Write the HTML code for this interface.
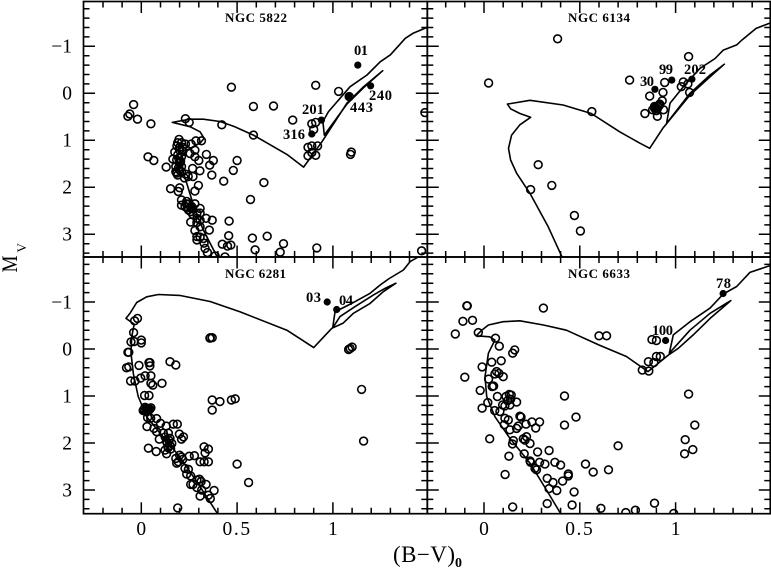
<!DOCTYPE html>
<html>
<head>
<meta charset="utf-8">
<title>NGC colour-magnitude diagrams</title>
<style>
html,body{margin:0;padding:0;background:#fff;width:771px;height:570px;overflow:hidden}
svg{display:block}
text{font-family:"Liberation Serif",serif;fill:#000}
</style>
</head>
<body>
<svg id="chart" xmlns="http://www.w3.org/2000/svg" width="771" height="570" viewBox="0 0 771 570">
<defs>
<clipPath id="clip-0"><rect x="83.5" y="1.5" width="343.8" height="255.5"/></clipPath>
<clipPath id="clip-1"><rect x="427.3" y="1.5" width="343" height="255.5"/></clipPath>
<clipPath id="clip-2"><rect x="83.5" y="257" width="343.8" height="256.7"/></clipPath>
<clipPath id="clip-3"><rect x="427.3" y="257" width="343" height="256.7"/></clipPath>
</defs>
</svg>
<script>
// ---- axis tick values
var xTickValues = [0, 0.5, 1];
var xTickLabels = ["0", "0.5", "1"];
var yTickValues = [-1, 0, 1, 2, 3];
var yTickLabels = ["\u22121", "0", "1", "2", "3"];

// ---- NGC 5822
var ngc5822OpenBV = [-0.04,-0.06,-0.07,-0.02,0.05,0.23,0.25,0.42,0.47,0.585,0.69,0.79,0.585,0.91,1.03,1.48,0.89,0.91,0.90,0.87,0.89,0.92,0.87,0.89,0.91,1.096,1.092,1.085,
0.035,0.065,0.13,0.165,0.197,0.186,0.21,0.23,0.26,0.285,0.314,0.28,0.254,0.28,0.30,0.34,0.376,0.357,0.306,0.268,0.368,0.43,0.48,0.50,0.64,0.57,0.153,0.20,0.193,0.298,0.28,
0.20,0.19,0.21,0.185,0.20,0.21,0.18,0.19,0.21,0.23,0.245,0.27,0.20,0.216,0.18,
0.21,0.21,0.237,0.25,0.263,0.28,0.307,0.246,0.258,0.228,0.29,0.307,0.29,0.307,0.338,0.37,0.258,0.29,0.307,0.28,0.355,0.29,0.307,0.324,0.29,0.328,0.333,0.345,0.385,0.437,
0.458,0.456,0.423,0.45,0.467,0.58,0.657,0.742,0.725,0.594,0.916,1.463,
0.19,0.20,0.175,0.195,0.205,0.215,0.195,0.185,0.225,0.24,0.26,0.235,0.27];
var ngc5822OpenMV = [0.24,0.44,0.49,0.55,0.65,0.54,0.62,0.67,-0.13,0.28,0.27,0.57,0.89,-0.17,-0.04,0.41,0.65,0.62,0.77,1.15,1.12,1.12,1.33,1.26,1.32,1.25,1.30,0.07,
1.35,1.43,1.57,1.40,0.98,1.12,1.05,1.08,1.08,1.01,1.01,1.21,1.28,1.35,1.43,1.30,1.43,1.53,1.65,1.60,1.74,1.87,1.64,1.43,1.90,2.26,2.03,2.01,2.09,1.96,2.08,
1.21,1.31,1.35,1.42,1.49,1.56,1.67,1.74,1.67,1.72,1.77,1.77,1.63,1.24,1.56,
2.27,2.38,2.30,2.35,2.41,2.35,2.45,2.48,2.52,2.41,2.55,2.55,2.66,2.70,2.66,2.70,2.74,2.75,2.84,2.92,2.91,3.05,3.06,3.09,3.12,3.19,3.30,3.39,3.46,3.48,
2.72,3.03,3.21,3.25,3.23,3.08,3.04,3.20,3.38,3.33,3.29,3.35,
1.05,1.15,1.25,1.38,1.45,1.15,1.58,1.70,1.80,2.42,2.45,2.35,2.58];
var ngc5822StarBV = [1.13, 1.197, 1.082, 0.94, 0.89];
var ngc5822StarMV = [-0.60, -0.16, 0.06, 0.57, 0.865];
var ngc5822LabelText = ["01", "240", "443", "201", "316"];
var ngc5822LineBV = [0.40,0.324,0.28,0.237,0.21,0.21,0.237,0.307,0.328,0.307,0.254,0.162,0.254,0.324,0.411,0.481,0.585,0.76,0.847,0.943,1.073,1.16,1.26,1.16,1.073,0.955,0.948,0.977,1.09,1.178,1.247,1.30,1.378,1.42,1.49];
var ngc5822LineMV = [3.51,2.91,2.48,1.91,1.56,1.35,1.21,1.06,0.96,0.82,0.71,0.62,0.55,0.55,0.60,0.70,0.89,1.30,1.57,1.03,0.21,-0.14,-0.48,-0.12,0.23,0.89,0.60,0.39,-0.14,-0.39,-0.67,-0.82,-1.17,-1.28,-1.40];

// ---- NGC 6134
var ngc6134OpenBV = [0.384,0.024,0.5625,0.76,1.068,0.943,1.04,1.03,1.064,0.934,1.073,0.865,0.93,0.917,0.89,0.908,0.88,0.90,0.937,0.84,0.905,0.283,0.354,0.243,0.472,0.503,0.895,0.905,0.915];
var ngc6134OpenMV = [-1.16,-0.22,0.39,-0.28,-0.78,-0.23,-0.24,-0.14,-0.20,-0.02,-0.02,0.06,0.16,0.23,0.28,0.28,0.35,0.37,0.35,0.43,0.49,1.52,1.96,2.05,2.60,2.93,0.30,0.33,0.26];
var ngc6134StarBV = [0.892, 0.98, 1.085, 0.895, 0.90, 0.885];
var ngc6134StarMV = [-0.085, -0.28, -0.30, 0.31, 0.34, 0.33];
var ngc6134LabelText = ["30", "99", "202"];
var ngc6134LineBV = [0.408,0.335,0.24,0.17,0.139,0.128,0.144,0.1875,0.243,0.1875,0.139,0.122,0.24,0.413,0.56,0.708,0.8125,0.865,0.933,1.075,1.18,1.254,1.18,1.075,0.953,0.971,1.049,1.127,1.206,1.249,1.319,1.345,1.42,1.49];
var ngc6134LineMV = [3.49,2.84,2.13,1.70,1.42,1.17,0.89,0.67,0.51,0.43,0.33,0.23,0.15,0.25,0.43,0.82,1.06,1.17,0.745,0.036,-0.35,-0.62,-0.39,0,0.64,0.21,-0.18,-0.53,-0.74,-0.92,-1.03,-1.13,-1.38,-1.49];

// ---- NGC 6281
var ngc6281OpenBV = [-0.02,-0.035,-0.04,-0.054,-0.037,0,0,-0.07,-0.065,-0.077,-0.065,-0.012,0.04,0.045,0.045,0.15,0.18,-0.056,-0.033,-0.003,0.02,0.05,0.06,0.05,0.108,0.017,0.04,
0.014,0.028,0.045,0.024,0.037,0.01,0.02,0.05,0.033,0.049,0.08,0.10,0.03,0.066,0.13,0.167,0.188,0.08,0.094,0.115,
0.141,0.124,0.15,0.132,0.159,0.141,0.124,0.153,0.132,0.199,0.22,0.21,0.037,0.078,0.18,0.20,0.21,0.193,0.185,0.216,0.25,0.277,0.328,0.35,0.333,0.307,0.328,0.35,0.50,0.56,
0.228,0.246,0.237,0.258,0.258,0.27,0.29,0.303,0.312,0.29,0.338,0.315,0.38,0.35,0.307,0.36,0.19,0.36,0.37,0.358,0.37,0.41,0.37,0.47,0.49,1.082,1.09,1.10,1.15,1.16,
0.03,0.04,0.025,0.035,0.135,0.14,0.15,0.145];
var ngc6281OpenMV = [-0.65,-0.60,-0.35,-0.15,-0.16,-0.19,-0.13,0.07,0.07,0.40,0.38,0.35,0.29,0.29,0.36,0.27,0.34,0.68,0.68,0.62,0.57,0.57,0.77,0.73,0.73,0.99,0.99,
1.28,1.26,1.28,1.33,1.31,1.31,1.24,1.25,1.46,1.475,1.48,1.58,1.65,1.69,1.64,1.60,1.60,1.76,1.92,1.79,
1.79,1.87,1.90,1.97,2.01,2.08,2.15,2.13,2.23,1.81,1.87,1.92,2.11,2.18,2.33,2.26,2.30,2.40,2.43,2.35,2.28,2.27,2.08,2.13,2.21,2.40,2.40,2.40,2.45,2.84,
2.54,2.56,2.66,2.70,2.88,2.88,2.79,2.77,2.82,2.95,2.88,3.0,3.01,3.11,3.13,3.18,3.38,-0.24,-0.24,-0.23,1.085,1.12,1.30,1.085,1.06,0.01,-0.01,-0.04,0.86,1.96,
1.29,1.30,1.30,1.27,2.0,2.1,2.05,1.95];
var ngc6281StarBV = [0.97, 1.02];
var ngc6281StarMV = [-1.0, -0.84];
var ngc6281LabelText = ["03", "04"];
var ngc6281LineBV = [0.397,0.307,0.20,0.098,0.028,-0.016,-0.042,-0.054,-0.05,-0.037,-0.08,-0.059,-0.024,0.028,0.089,0.20,0.359,0.516,0.76,0.90,0.994,1.054,1.107,1.194,1.263,1.329,1.272,1.212,1.115,1.037,0.999,1.011,1.098,1.194,1.246,1.29,1.368,1.403,1.455];
var ngc6281LineMV = [3.50,2.93,2.29,1.79,1.44,1.01,0.52,0.09,-0.26,-0.53,-0.65,-0.76,-0.99,-1.11,-1.16,-1.14,-1.01,-0.79,-0.40,-0.03,-0.44,-0.55,-0.76,-0.97,-1.22,-1.40,-1.29,-1.15,-0.90,-0.69,-0.45,-0.79,-0.97,-1.185,-1.36,-1.49,-1.68,-1.86,-1.98];

// ---- NGC 6633
var ngc6633OpenBV = [-0.087,-0.09,-0.11,-0.06,-0.15,-0.03,0.31,0.60,0.64,0.06,0.08,0.16,0.15,0.09,0.04,-0.01,-0.10,0.066,0.078,0.057,0.10,0.024,0.043,0.05,-0.02,0.07,
0.132,0.142,0.115,0.139,0.123,0.135,0.109,0.17,0.02,-0.01,0.056,0.083,0.097,
0.109,0.127,0.1875,0.193,0.25,0.29,0.219,0.27,0.17,0.135,0.106,0.179,0.42,0.48,0.42,0.03,
0.222,0.205,0.214,0.24,0.153,0.149,0.70,0.34,0.28,0.21,0.13,0.24,0.243,0.29,0.318,0.37,0.40,0.266,0.274,0.53,0.57,0.65,0.11,0.44,0.44,0.33,0.36,0.41,0.34,0.38,0.47,0.33,0.46,0.15,0.61,0.74,0.79,0.89,0.99,
1.068,1.10,1.05,1.09,1.047,0.877,0.90,0.90,0.92,0.858,0.887,0.826,0.86];
var ngc6633OpenMV = [-0.92,-0.92,-0.59,-0.61,-0.32,-0.35,-0.87,-0.28,-0.28,-0.23,-0.06,0.02,0.09,0.25,0.28,0.38,0.60,0.48,0.52,0.53,0.59,0.64,0.80,0.79,0.88,1.01,
0.965,0.98,1.01,1.07,1.10,1.19,1.21,1.13,1.14,1.26,1.31,1.33,1.19,
1.475,1.51,1.43,1.45,1.55,1.55,1.60,1.68,1.69,1.72,1.61,1.64,1.0,1.45,1.62,1.91,
1.865,1.91,1.94,2.01,1.95,2.02,2.06,2.16,2.19,2.23,2.28,2.38,2.41,2.41,2.45,2.41,2.47,2.54,2.57,2.45,2.62,2.57,2.67,2.66,2.70,2.75,2.84,2.81,2.97,3.01,3.04,3.29,3.32,3.36,3.39,3.48,3.43,3.28,3.5,
0.96,1.62,1.93,2.14,2.23,-0.20,-0.18,0.16,0.16,0.27,0.29,0.45,0.47];
var ngc6633StarBV = [0.948, 1.248];
var ngc6633StarMV = [-0.18, -1.18];
var ngc6633LabelText = ["100", "78"];
var ngc6633LineBV = [0.40,0.326,0.24,0.135,0.057,0.014,0.005,0.023,0.057,0.03,-0.04,-0.012,0.023,0.10,0.1875,0.31,0.43,0.60,0.743,0.856,0.962,1.014,1.092,1.18,1.288,1.18,1.075,0.967,0.988,1.075,1.18,1.249,1.319,1.388,1.49];
var ngc6633LineMV = [3.50,3.0,2.43,1.90,1.44,1.01,0.59,0.09,-0.19,-0.26,-0.28,-0.40,-0.51,-0.58,-0.60,-0.51,-0.40,-0.085,0.16,0.48,0.13,-0.015,-0.30,-0.65,-1.03,-0.76,-0.40,0.09,-0.30,-0.58,-0.87,-1.17,-1.33,-1.63,-1.77];

// ---- panel wiring
var panelTitles = ["NGC 5822", "NGC 6134", "NGC 6281", "NGC 6633"];
var panelOpenBV = [ngc5822OpenBV, ngc6134OpenBV, ngc6281OpenBV, ngc6633OpenBV];
var panelOpenMV = [ngc5822OpenMV, ngc6134OpenMV, ngc6281OpenMV, ngc6633OpenMV];
var panelStarBV = [ngc5822StarBV, ngc6134StarBV, ngc6281StarBV, ngc6633StarBV];
var panelStarMV = [ngc5822StarMV, ngc6134StarMV, ngc6281StarMV, ngc6633StarMV];
var panelLineBV = [ngc5822LineBV, ngc6134LineBV, ngc6281LineBV, ngc6633LineBV];
var panelLineMV = [ngc5822LineMV, ngc6134LineMV, ngc6281LineMV, ngc6633LineMV];
var panelLabelText = [ngc5822LabelText, ngc6134LabelText, ngc6281LabelText, ngc6633LabelText];
</script>
<script>
var NS = "http://www.w3.org/2000/svg";
var svg = document.getElementById("chart");
var PX_PER_BV = 191.6, PX_PER_MV = 47;
var frames = [
  {l:83.5, r:427.3, t:1.5, b:257, x0:141.3, y0:93.3},
  {l:427.3, r:770.3, t:1.5, b:257, x0:484, y0:93.3},
  {l:83.5, r:427.3, t:257, b:513.7, x0:141.3, y0:349},
  {l:427.3, r:770.3, t:257, b:513.7, x0:484, y0:349}
];
// label placement relative to each panel: [left, width, baseline]
var labelBoxes = [
  [[354,14,55],[369,23,100],[350,23,112],[302,22,114],[283,22,139]],
  [[640,14,86],[659,14,74],[684,22,74]],
  [[306,15,302],[339,14,305]],
  [[652,21,335],[716,15,288]]
];
var titleBoxes = [[225,62,22],[568,62,22],[225,61,278],[568,62,278]];

function mk(tag, attrs, parent) {
  var el = document.createElementNS(NS, tag);
  for (var k in attrs) el.setAttribute(k, attrs[k]);
  (parent || svg).appendChild(el);
  return el;
}
function xScale(f, v) { return f.x0 + v * PX_PER_BV; }
function yScale(f, v) { return f.y0 + v * PX_PER_MV; }

frames.forEach(function (f, p) {
  var slug = panelTitles[p].toLowerCase().replace(" ", "-");
  var g = mk("g", {});
  
  

  // isochrone
  var pts = panelLineBV[p].map(function (v, i) {
    return xScale(f, v).toFixed(1) + "," + yScale(f, panelLineMV[p][i]).toFixed(1);
  }).join(" ");
  var line = mk("polyline", {points: pts, fill: "none", stroke: "#000", "stroke-width": 1.6, "stroke-linejoin": "round", "clip-path": "url(#clip-" + p + ")"}, g);
  
  

  // open circles
  panelOpenBV[p].forEach(function (v, i) {
    var c = mk("circle", {cx: xScale(f, v).toFixed(1), cy: yScale(f, panelOpenMV[p][i]).toFixed(1), r: 3.9, fill: "none", stroke: "#000", "stroke-width": 1.6, "clip-path": "url(#clip-" + p + ")"}, g);
    
    
  });
  // filled circles
  panelStarBV[p].forEach(function (v, i) {
    var c = mk("circle", {cx: xScale(f, v).toFixed(1), cy: yScale(f, panelStarMV[p][i]).toFixed(1), r: 3.6, fill: "#000", "clip-path": "url(#clip-" + p + ")"}, g);
    
    
  });
  // star id labels
  panelLabelText[p].forEach(function (s, i) {
    var b = labelBoxes[p][i];
    var t = mk("text", {x: b[0], y: b[2], "font-size": 14.5, "font-weight": "bold", textLength: b[1], lengthAdjust: "spacing"}, g);
    t.textContent = s;
    
    
  });
  // title
  var tb = titleBoxes[p];
  var title = mk("text", {x: tb[0], y: tb[2], "font-size": 13, "font-weight": "bold", textLength: tb[1], lengthAdjust: "spacing"}, g);
  title.textContent = panelTitles[p];
  
  

  // frame
  var rect = mk("rect", {x: f.l, y: f.t, width: f.r - f.l, height: f.b - f.t, fill: "none", stroke: "#000", "stroke-width": 1.7}, g);
  
  

  // ticks
  var d = "", k, v, x, y, len;
  for (k = -3; k <= 15; k++) {
    v = k / 10;
    x = xScale(f, v);
    if (x < f.l + 1 || x > f.r - 1) continue;
    len = (k % 5 === 0) ? 11.5 : 6;
    d += "M" + x.toFixed(1) + " " + f.b + "v" + (-len) + "M" + x.toFixed(1) + " " + f.t + "v" + len;
  }
  for (k = -10; k <= 18; k++) {
    v = k / 5;
    y = yScale(f, v);
    if (y < f.t + 1 || y > f.b - 1) continue;
    len = (k % 5 === 0) ? 11.5 : 6;
    d += "M" + f.l + " " + y.toFixed(1) + "h" + len + "M" + f.r + " " + y.toFixed(1) + "h" + (-len);
  }
  var ticks = mk("path", {d: d, fill: "none", stroke: "#000", "stroke-width": 1.5}, g);
  
  

  // y tick labels on left panels
  if (p === 0 || p === 2) {
    yTickValues.forEach(function (v, i) {
      var t = mk("text", {x: 72, y: (yScale(f, v) + 6.4).toFixed(1), "font-size": 19.5, "text-anchor": "end"}, g);
      t.textContent = yTickLabels[i];
      
      
    });
  }
  // x tick labels on bottom panels
  if (p >= 2) {
    xTickValues.forEach(function (v, i) {
      var t = mk("text", {x: xScale(f, v).toFixed(1), y: 535, "font-size": 19.5, "text-anchor": "middle", "letter-spacing": i === 1 ? 1.6 : 0}, g);
      t.textContent = xTickLabels[i];
      
      
    });
  }
});

// axis titles
var xTitle = mk("text", {x: 393, y: 562, "font-size": 23, textLength: 62, lengthAdjust: "spacing"});
xTitle.textContent = "(B\u2212V)";


var xSub = mk("text", {x: 455, y: 567, "font-size": 14, "font-weight": "bold"});
xSub.textContent = "0";


var yTitle = mk("text", {x: 0, y: 0, "font-size": 22, textLength: 17, lengthAdjust: "spacingAndGlyphs", transform: "translate(17 272.5) rotate(-90)"});
yTitle.textContent = "M";


var ySub = mk("text", {x: 0, y: 0, "font-size": 13, transform: "translate(26 252.5) rotate(-90)"});
ySub.textContent = "V";


</script>
</body>
</html>
